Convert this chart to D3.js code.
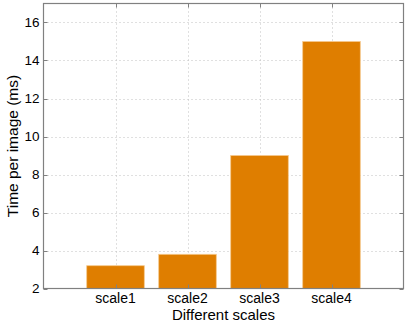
<!DOCTYPE html>
<html><head><meta charset="utf-8">
<script src="https://cdn.jsdelivr.net/npm/d3@7"></script>
<style>body{margin:0;background:#fff}svg{display:block}text{font-family:"Liberation Sans",Arial,sans-serif;fill:#000}</style>
</head><body><svg id="c" width="407" height="325"></svg>
<script>
const categories = ["scale1","scale2","scale3","scale4"];
const values = [3.2, 3.8, 9.0, 15.0];
const yTicks = [2,4,6,8,10,12,14,16];
const xLabel = "Different scales";
const yLabel = "Time per image (ms)";

const svg = d3.select("#c");
const L=43.5, R=403.5, T=3.5, B=288.5;
const x = d3.scaleLinear().domain([0,5]).range([L,R]);
const y = d3.scaleLinear().domain([2,17]).range([B,T]);
const g = svg.append("g");

// grid
g.selectAll(".gy").data(yTicks.filter(d=>d>2)).enter().append("line")
 .attr("x1",L).attr("x2",R).attr("y1",d=>Math.round(y(d))+0.5).attr("y2",d=>Math.round(y(d))+0.5)
 .attr("stroke","#c0c0c0").attr("stroke-dasharray","1,3");
g.selectAll(".gx").data(categories).enter().append("line")
 .attr("x1",(d,i)=>Math.round(x(i+1))+0.5).attr("x2",(d,i)=>Math.round(x(i+1))+0.5).attr("y1",T).attr("y2",B)
 .attr("stroke","#c0c0c0").attr("stroke-dasharray","1,3");

// bars
const bw = x(0.8)-x(0);
g.selectAll(".bar").data(values).enter().append("rect")
 .attr("x",(d,i)=>x(i+1)-bw/2).attr("width",bw)
 .attr("y",d=>y(d)).attr("height",d=>y(2)-y(d))
 .attr("fill","#df7e00").attr("stroke","#f6c98e").attr("stroke-width",0.8);

// box
g.append("rect").attr("x",L).attr("y",T).attr("width",R-L).attr("height",B-T)
 .attr("fill","none").attr("stroke","#808080").attr("stroke-width",1.2);

// ticks inside
yTicks.forEach(t=>{
  const yy=Math.round(y(t))+0.5;
  g.append("line").attr("x1",L).attr("x2",L+4).attr("y1",yy).attr("y2",yy).attr("stroke","#808080");
  g.append("line").attr("x1",R-4).attr("x2",R).attr("y1",yy).attr("y2",yy).attr("stroke","#808080");
});
categories.forEach((c,i)=>{
  const xx=Math.round(x(i+1))+0.5;
  g.append("line").attr("x1",xx).attr("x2",xx).attr("y1",B).attr("y2",B-4).attr("stroke","#808080");
  g.append("line").attr("x1",xx).attr("x2",xx).attr("y1",T).attr("y2",T+4).attr("stroke","#808080");
});

// labels
g.selectAll(".yl").data(yTicks).enter().append("text")
 .attr("x",L-4).attr("y",d=>y(d)+4.5).attr("text-anchor","end").attr("font-size",13.5).text(d=>d);
g.selectAll(".xl").data(categories).enter().append("text")
 .attr("x",(d,i)=>x(i+1)).attr("y",302.5).attr("text-anchor","middle").attr("font-size",14).text(d=>d);
svg.append("text").attr("x",(L+R)/2).attr("y",320).attr("text-anchor","middle").attr("font-size",15).text(xLabel);
svg.append("text").attr("transform","translate(18,"+((T+B)/2)+") rotate(-90)").attr("text-anchor","middle").attr("font-size",15.5).text(yLabel);
</script></body></html>
